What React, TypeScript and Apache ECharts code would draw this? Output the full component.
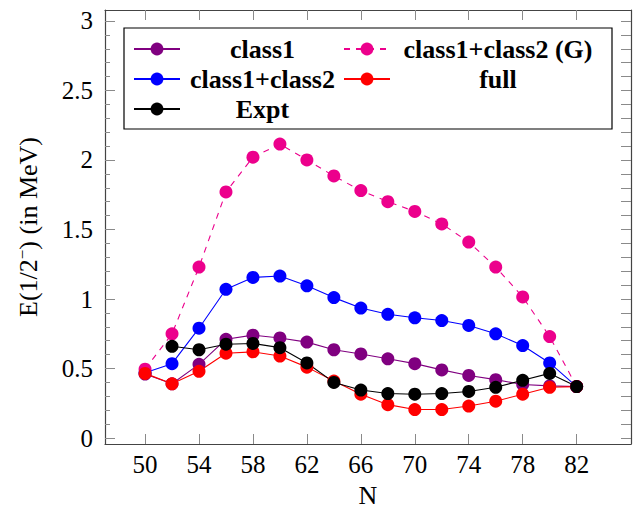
import React, { useEffect, useRef } from "react";
import * as echarts from "echarts";

const N = [50, 52, 54, 56, 58, 60, 62, 64, 66, 68, 70, 72, 74, 76, 78, 80, 82];
const class1 = [0.46, 0.39, 0.53, 0.71, 0.74, 0.72, 0.69, 0.635, 0.605, 0.57, 0.535, 0.49, 0.45, 0.42, 0.385, 0.375, 0.37];
const class12 = [0.47, 0.535, 0.79, 1.07, 1.155, 1.165, 1.095, 1.01, 0.935, 0.89, 0.865, 0.845, 0.81, 0.75, 0.665, 0.54, 0.37];
const class12G = [0.495, 0.75, 1.23, 1.77, 2.02, 2.115, 2.0, 1.885, 1.78, 1.7, 1.63, 1.54, 1.41, 1.23, 1.015, 0.73, 0.37];
const full = [0.465, 0.39, 0.48, 0.61, 0.62, 0.59, 0.51, 0.41, 0.315, 0.24, 0.205, 0.205, 0.23, 0.265, 0.315, 0.365, 0.37];
const exptN = [52, 54, 56, 58, 60, 62, 64, 66, 68, 70, 72, 74, 76, 78, 80, 82];
const expt = [0.66, 0.635, 0.675, 0.68, 0.65, 0.54, 0.4, 0.345, 0.32, 0.315, 0.32, 0.335, 0.365, 0.415, 0.465, 0.37];

const xTicks = [50, 54, 58, 62, 66, 70, 74, 78, 82];
const yTicks = [0, 0.5, 1, 1.5, 2, 2.5, 3];
const yMinorTicks = [
  0.1, 0.2, 0.3, 0.4, 0.6, 0.7, 0.8, 0.9, 1.1, 1.2, 1.3, 1.4, 1.6, 1.7, 1.8, 1.9,
  2.1, 2.2, 2.3, 2.4, 2.6, 2.7, 2.8, 2.9,
];
const yAllTicks = [...yTicks, ...yMinorTicks];

const SERIF = "Liberation Serif";
const FRAME = "#444";
const TICK = "#8a8a8a";

const COLORS = {
  class1: "#800080",
  class12: "#0000ff",
  class12G: "#ec008c",
  full: "#ff0000",
  expt: "#000000",
};

const pairs = (xs: number[], ys: number[]) => xs.map((x, i) => [x, ys[i]]);

export default function App() {
  const ref = useRef<HTMLDivElement>(null);
  useEffect(() => {
    if (!ref.current) return;
    const chart = echarts.init(ref.current, null, { renderer: "svg" });
    const X_MIN = 47.03;
    const X_MAX = 86.03;
    const Y_MIN = -0.043;
    const Y_MAX = 3.079;

    const mkSeries = (name: string, data: number[][], color: string, dashed = false) => ({
      name,
      type: "line",
      data,
      symbol: "circle",
      symbolSize: 13,
      showSymbol: true,
      itemStyle: { color },
      lineStyle: { color, width: 1.1, type: dashed ? [6, 6] : "solid" },
      emphasis: { disabled: true },
    });

    const legendItem = (name: string, left: number, top: number, w: number) => ({
      data: [name],
      left,
      top,
      orient: "horizontal",
      padding: 0,
      itemWidth: 46,
      itemHeight: 16,
      selectedMode: false,
      formatter: (n: string) => `{t|${n}}`,
      textStyle: {
        fontFamily: SERIF,
        rich: {
          t: {
            width: w,
            align: "center",
            fontFamily: SERIF,
            fontWeight: "bold",
            fontSize: 26,
            color: "#000",
            height: 26,
            lineHeight: 26,
          },
        },
      },
    });

    const option: any = {
      animation: false,
      backgroundColor: "#fff",
      textStyle: { fontFamily: SERIF },
      grid: { left: 105, right: 4, top: 10, bottom: 66, containLabel: false },
      graphic: [
        {
          type: "rect",
          shape: { x: 124, y: 28, width: 488, height: 101 },
          style: { fill: "none", stroke: "#000", lineWidth: 1.2 },
          z: 1,
        },
      ],
      legend: [
        legendItem("class1", 133, 36, 155),
        legendItem("class1+class2", 133, 66, 155),
        legendItem("Expt", 133, 96, 155),
        legendItem("class1+class2 (G)", 343, 36, 206),
        legendItem("full", 343, 66, 206),
      ],
      xAxis: [
        {
          type: "value",
          position: "bottom",
          min: X_MIN,
          max: X_MAX,
          name: "N",
          nameLocation: "middle",
          nameGap: 38,
          nameTextStyle: { fontFamily: SERIF, fontSize: 26, color: "#000" },
          axisLine: { show: true, onZero: false, lineStyle: { color: FRAME, width: 1.2 } },
          axisTick: { show: true, inside: true, length: 10, customValues: xTicks, lineStyle: { color: TICK } },
          axisLabel: { show: true, customValues: xTicks, margin: 8, fontFamily: SERIF, fontSize: 25, color: "#000" },
          splitLine: { show: false },
        },
        {
          type: "value",
          position: "top",
          min: X_MIN,
          max: X_MAX,
          axisLine: { show: true, onZero: false, lineStyle: { color: FRAME, width: 1.2 } },
          axisTick: { show: true, inside: true, length: 10, customValues: xTicks, lineStyle: { color: TICK } },
          axisLabel: { show: false },
          splitLine: { show: false },
        },
      ],
      yAxis: [
        {
          type: "value",
          position: "left",
          min: Y_MIN,
          max: Y_MAX,
          name: "E(1/2{s|−}) (in MeV)",
          nameLocation: "middle",
          nameRotate: 90,
          nameGap: 62,
          nameTextStyle: {
            fontFamily: SERIF,
            fontSize: 26,
            color: "#000",
            rich: { s: { fontFamily: SERIF, fontSize: 17, color: "#000", verticalAlign: "top", padding: [0, 0, 12, 0] } },
          },
          axisLine: { show: true, onZero: false, lineStyle: { color: FRAME, width: 1.2 } },
          axisTick: { show: true, inside: true, length: 10, customValues: yTicks, lineStyle: { color: TICK } },
          axisLabel: { show: true, customValues: yTicks, margin: 12, fontFamily: SERIF, fontSize: 25, color: "#000" },
          splitLine: { show: false },
        },
        {
          type: "value",
          position: "left",
          min: Y_MIN,
          max: Y_MAX,
          axisLine: { show: false },
          axisTick: { show: true, inside: true, length: 5, customValues: yMinorTicks, lineStyle: { color: TICK } },
          axisLabel: { show: false },
          splitLine: { show: false },
        },
        {
          type: "value",
          position: "right",
          min: Y_MIN,
          max: Y_MAX,
          axisLine: { show: true, onZero: false, lineStyle: { color: FRAME, width: 1.2 } },
          axisTick: { show: true, inside: true, length: 10, customValues: yAllTicks, lineStyle: { color: TICK } },
          axisLabel: { show: false },
          splitLine: { show: false },
        },
      ],
      series: [
        mkSeries("class1", pairs(N, class1), COLORS.class1),
        mkSeries("class1+class2", pairs(N, class12), COLORS.class12),
        mkSeries("class1+class2 (G)", pairs(N, class12G), COLORS.class12G, true),
        mkSeries("full", pairs(N, full), COLORS.full),
        mkSeries("Expt", pairs(exptN, expt), COLORS.expt),
      ],
    };
    chart.setOption(option);
    return () => chart.dispose();
  }, []);
  return (
    <div
      ref={ref}
      style={{ position: "fixed", left: 0, top: 0, width: 635, height: 513, background: "#fff" }}
    />
  );
}
